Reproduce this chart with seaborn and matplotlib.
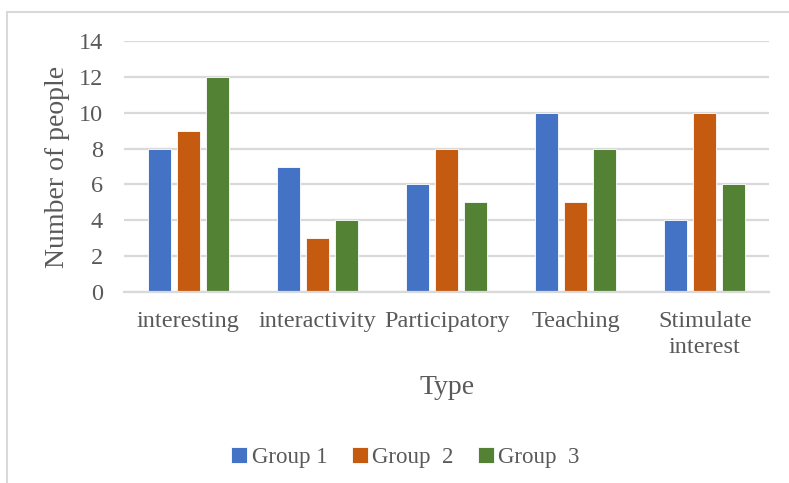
import matplotlib
matplotlib.use("Agg")
import matplotlib.pyplot as plt
from matplotlib.lines import Line2D
import seaborn as sns
import pandas as pd

categories = ["interesting", "interactivity", "Participatory", "Teaching", "Stimulate\ninterest"]
groups = ["Group 1", "Group  2", "Group  3"]
group1 = [8, 7, 6, 10, 4]
group2 = [9, 3, 8, 5, 10]
group3 = [12, 4, 5, 8, 6]
y_ticks = [0, 2, 4, 6, 8, 10, 12, 14]

colors = ["#4472C4", "#C55A11", "#548235"]
text_gray = "#595959"
grid_gray = "#D9D9D9"

df = pd.DataFrame({
    "Type": categories * 3,
    "Group": [groups[0]] * 5 + [groups[1]] * 5 + [groups[2]] * 5,
    "Count": group1 + group2 + group3,
})

sns.set_theme(style="white")
plt.rcParams["font.family"] = ["Liberation Serif", "DejaVu Serif"]

fig = plt.figure(figsize=(7.89, 4.83), dpi=100)
ax = fig.add_axes([0.157, 0.3954, 0.818, 0.5196])

sns.barplot(data=df, x="Type", y="Count", hue="Group", order=categories,
            hue_order=groups, palette=colors, width=0.674, gap=0.22,
            edgecolor="white", linewidth=0.6, saturation=1, ax=ax, legend=True)

ax.set_ylim(0, 14)
ax.set_yticks(y_ticks)
ax.set_xlim(-0.5, len(categories) - 0.5)
ax.yaxis.grid(True, color=grid_gray, linewidth=1.6)
ax.set_axisbelow(True)
for side in ["top", "right", "left"]:
    ax.spines[side].set_visible(False)
ax.spines["bottom"].set_color(grid_gray)
ax.spines["bottom"].set_linewidth(1.6)

ax.tick_params(axis="y", length=0, pad=15, labelsize=17.5, labelcolor=text_gray)
ax.tick_params(axis="x", length=0, pad=14, labelsize=17.5, labelcolor=text_gray)
for lbl in ax.get_xticklabels():
    lbl.set_linespacing(1.3)

ax.set_ylabel("Number of people", fontsize=20, color=text_gray, labelpad=6)
ax.set_xlabel("Type", fontsize=20, color=text_gray, labelpad=12)

handles, labels = ax.get_legend_handles_labels()
ax.legend_.remove()
fig.legend(handles, labels, loc="center", bbox_to_anchor=(0.514, 0.053),
           ncol=3, frameon=False, fontsize=16.5, handlelength=0.7,
           handleheight=0.7, handletextpad=0.2, columnspacing=1.05,
           labelcolor=text_gray)

# outer chart border
fig.add_artist(Line2D([0.009, 0.009], [0.0, 0.975], color=grid_gray, linewidth=1.5,
                      transform=fig.transFigure))
fig.add_artist(Line2D([0.009, 1.0], [0.975, 0.975], color=grid_gray, linewidth=1.5,
                      transform=fig.transFigure))

fig.savefig("out.png", dpi=100)
